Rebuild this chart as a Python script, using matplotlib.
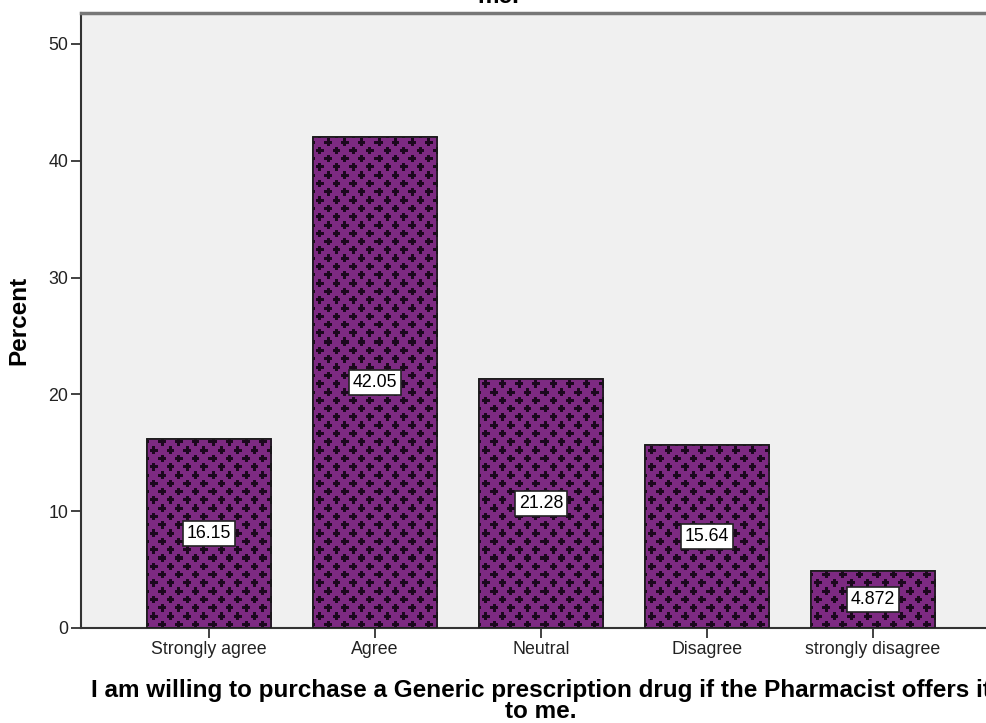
import numpy as np
import matplotlib
matplotlib.use("Agg")
import matplotlib.pyplot as plt

plt.rcParams['font.family'] = ['Liberation Sans', 'DejaVu Sans']

categories = ["Strongly agree", "Agree", "Neutral", "Disagree", "strongly disagree"]
percent = [16.15, 42.05, 21.28, 15.64, 4.872]
value_labels = ["16.15", "42.05", "21.28", "15.64", "4.872"]
y_ticks = [0, 10, 20, 30, 40, 50]
question_lines = ["I am willing to purchase a Generic prescription drug if the Pharmacist offers it",
                  "to me."]
chart_title = "I am willing to purchase a Generic prescription drug if the Pharmacist offers it to\nme."

W, H, DPI = 987, 723, 100
fig = plt.figure(figsize=(W / DPI, H / DPI), dpi=DPI)
fig.patch.set_facecolor("white")

ax_left, ax_right, ax_top, ax_bottom = 81, 997, 13, 628
ax = fig.add_axes([ax_left / W, 1 - ax_bottom / H, (ax_right - ax_left) / W, (ax_bottom - ax_top) / H])
ax.set_facecolor("#f0f0f0")

x = np.arange(len(categories))
spacing_px = 166.0
x0 = -(209 - ax_left) / spacing_px
ax.set_xlim(x0, x0 + (ax_right - ax_left) / spacing_px)
ax.set_ylim(0, (ax_bottom - ax_top) / 11.68)

purple = np.array([0x7d, 0x2a, 0x82]) / 255.0
dark = np.array([0x1c, 0x08, 0x1e]) / 255.0
bars = ax.bar(x, percent, width=0.747, color=purple, edgecolor="#1a1a1a", linewidth=1.2, zorder=2)

# Staggered cross pattern used as the bar fill
pw, ph = ax_right - ax_left, ax_bottom - ax_top
img = np.ones((ph, pw, 3)) * purple
yy, xx = np.mgrid[0:ph, 0:pw].astype(float)
period = 16.6

def cross_mask(ox, oy):
    dx = (xx - ox) % period
    dy = (yy - oy) % period
    dx = np.minimum(dx, period - dx)
    dy = np.minimum(dy, period - dy)
    return ((dx <= 1.5) & (dy <= 3.8)) | ((dy <= 1.5) & (dx <= 3.8))

mask = cross_mask(6, 5) | cross_mask(6 + period / 2, 5 + period / 2)
img[mask] = dark
for b in bars:
    im = ax.imshow(img, extent=[ax.get_xlim()[0], ax.get_xlim()[1], 0, ax.get_ylim()[1]],
                   origin="upper", aspect="auto", interpolation="nearest", zorder=2.5)
    im.set_clip_path(b)
for b in bars:
    r = plt.Rectangle((b.get_x(), 0), b.get_width(), b.get_height(), fill=False,
                      edgecolor="#1a1a1a", linewidth=1.2, zorder=3)
    ax.add_patch(r)

for xi, v, lab in zip(x, percent, value_labels):
    ax.text(xi, v / 2, lab, ha="center", va="center", fontsize=12.8, color="black", zorder=5,
            bbox=dict(boxstyle="square,pad=0.22", facecolor="white", edgecolor="#222222", linewidth=1.2))

ax.set_xticks(x)
ax.set_xticklabels(categories, fontsize=12.8, color="#222222")
ax.set_yticks(y_ticks)
ax.set_yticklabels([str(t) for t in y_ticks], fontsize=12.8, color="#222222")
ax.tick_params(axis="both", direction="out", length=7, width=1.3, color="#333333", pad=2)

for s in ["left", "bottom"]:
    ax.spines[s].set_color("#333333")
    ax.spines[s].set_linewidth(1.5)
ax.spines["top"].set_color("#777777")
ax.spines["top"].set_linewidth(2.5)
ax.spines["right"].set_visible(False)

fig.text(18.5 / W, 1 - 320 / H, "Percent", rotation=90, ha="center", va="center",
         fontsize=17.5, fontweight="bold")
for line, base in zip(question_lines, [697, 718]):
    fig.text(541 / W, 1 - base / H, line, ha="center", va="baseline",
             fontsize=17.5, fontweight="bold")
fig.text(498 / W, 1 - 3 / H, chart_title, ha="center", va="baseline",
         fontsize=17.5, fontweight="bold", linespacing=0.8)

fig.savefig("out.png", dpi=DPI)
